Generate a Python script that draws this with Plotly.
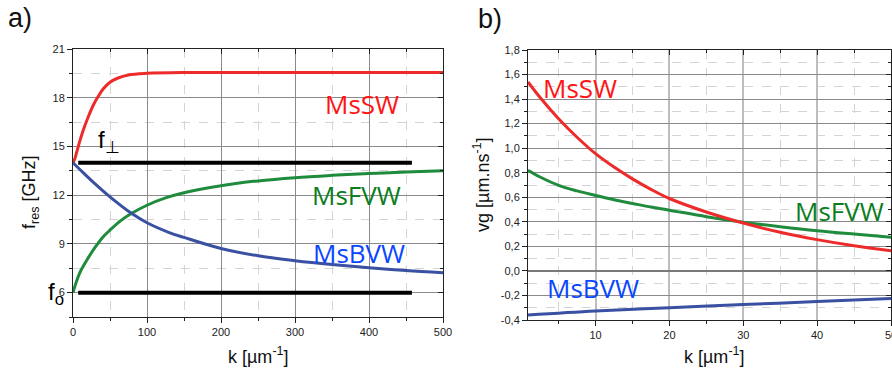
import plotly.graph_objects as go

# ---------------- data: panel a (resonance frequency) ----------------
k_a_sw = [0, 2.5, 5, 10, 15, 20, 27.5, 35, 41, 50, 60, 75, 100, 150, 200, 300, 400, 500]
f_sw = [14.0, 14.25, 14.65, 15.45, 16.15, 16.75, 17.55, 18.15, 18.55, 18.95, 19.2, 19.4, 19.5, 19.55, 19.55, 19.55, 19.55, 19.55]

k_a_bvw = [0, 10, 25, 50, 80, 100, 130, 150, 200, 250, 300, 350, 400, 450, 500]
f_bvw = [14.0, 13.55, 12.9, 11.9, 10.85, 10.3, 9.7, 9.4, 8.72, 8.27, 7.97, 7.73, 7.53, 7.36, 7.22]

k_a_fvw = [0, 3, 6, 10, 20, 30, 40, 50, 65, 80, 100, 125, 150, 200, 250, 300, 350, 400, 450, 500]
f_fvw = [6.0, 6.45, 6.85, 7.3, 8.1, 8.8, 9.4, 9.85, 10.45, 10.9, 11.38, 11.83, 12.15, 12.58, 12.88, 13.08, 13.22, 13.33, 13.42, 13.5]

k_lim = [7, 458]
f_perp = [14.0, 14.0]
f_zero = [6.0, 6.0]

a_xticks = [0, 100, 200, 300, 400, 500]
a_yticks = [6, 9, 12, 15, 18, 21]

# ---------------- data: panel b (group velocity) ----------------
k_b_sw = [0.86, 2.5, 5, 7.5, 10, 12.5, 15, 17.5, 20, 25, 30, 35, 40, 45, 50]
vg_sw = [1.54, 1.413, 1.24, 1.089, 0.955, 0.846, 0.75, 0.665, 0.59, 0.48, 0.39, 0.315, 0.255, 0.205, 0.165]

k_b_fvw = [0.86, 2.5, 5, 7.5, 10, 12.5, 15, 17.5, 20, 25, 30, 35, 40, 45, 50]
vg_fvw = [0.82, 0.765, 0.697, 0.652, 0.615, 0.58, 0.55, 0.52, 0.495, 0.442, 0.397, 0.36, 0.327, 0.30, 0.275]

k_b_bvw = [0.86, 10, 20, 30, 40, 50]
vg_bvw = [-0.36, -0.327, -0.30, -0.274, -0.25, -0.225]

b_xticks = [10, 20, 30, 40, 50]
b_yticks = [1.8, 1.6, 1.4, 1.2, 1.0, 0.8, 0.6, 0.4, 0.2, 0.0, -0.2, -0.4]
b_yticktext = ["1,8", "1,6", "1,4", "1,2", "1,0", "0,8", "0,6", "0,4", "0,2", "0,0", "-0,2", "-0,4"]

# ---------------- styling ----------------
W, H = 892, 369
RED, BLUE, GREEN = "#ee2b2b", "#3a50a2", "#1e8c3c"
TRED, TBLUE, TGREEN = "#ff1414", "#0a46ff", "#0b7d1e"
TF = "Liberation Sans, Arial, sans-serif"
TICKFONT = dict(family=TF, size=11, color="#222")
LABFONT = "Open Sans, sans-serif"


def px_x(p):
    return p / W


def px_y(p):
    return 1 - p / H


def main_axis(domain, rng, tickvals, ticktext, minor_dtick, minor_tick0, anchor,
              gridcolor="#8a8a8a", gridwidth=1):
    return dict(
        domain=domain, range=rng, anchor=anchor, automargin=False,
        tickmode="array", tickvals=tickvals, ticktext=ticktext,
        ticks="outside", ticklen=5, tickwidth=1, tickcolor="#222",
        ticklabeloverflow="allow",
        showline=True, linecolor="#222", linewidth=1, mirror=True,
        showgrid=True, gridcolor=gridcolor, gridwidth=gridwidth,
        zeroline=False, tickfont=TICKFONT,
        minor=dict(dtick=minor_dtick, tick0=minor_tick0, ticks="outside", ticklen=3,
                   tickcolor="#222", showgrid=True, gridcolor="#d4d4d4",
                   griddash="dash", gridwidth=1),
    )


def mirror_axis(overlay, side, anchor, rng, tickvals, minor_dtick, minor_tick0):
    return dict(
        overlaying=overlay, side=side, anchor=anchor, range=rng, automargin=False,
        tickmode="array", tickvals=tickvals, showticklabels=False,
        ticks="inside", ticklen=5, tickcolor="#222",
        showline=False, showgrid=False, zeroline=False,
        minor=dict(dtick=minor_dtick, tick0=minor_tick0, ticks="inside",
                   ticklen=3, tickcolor="#222", showgrid=False),
    )


a_xdom = [px_x(73), px_x(443)]
a_ydom = [px_y(317), px_y(49)]
b_xdom = [px_x(528), px_x(891)]
b_ydom = [px_y(320), px_y(50)]

a_xr = [0, 500]
a_yr = [4.5, 21]
b_xr = [0.86, 50]
b_yr = [-0.4, 1.8]

fig = go.Figure()

SPL = dict(shape="spline", smoothing=1.0)

# panel a
fig.add_trace(go.Scatter(x=k_lim, y=f_perp, mode="lines", line=dict(color="black", width=4),
                         xaxis="x", yaxis="y", showlegend=False))
fig.add_trace(go.Scatter(x=k_lim, y=f_zero, mode="lines", line=dict(color="black", width=4),
                         xaxis="x", yaxis="y", showlegend=False))
fig.add_trace(go.Scatter(x=k_a_sw, y=f_sw, mode="lines", line=dict(color=RED, width=3, **SPL),
                         xaxis="x", yaxis="y", showlegend=False))
fig.add_trace(go.Scatter(x=k_a_fvw, y=f_fvw, mode="lines", line=dict(color=GREEN, width=3, **SPL),
                         xaxis="x", yaxis="y", showlegend=False))
fig.add_trace(go.Scatter(x=k_a_bvw, y=f_bvw, mode="lines", line=dict(color=BLUE, width=3, **SPL),
                         xaxis="x", yaxis="y", showlegend=False))

# panel b
fig.add_trace(go.Scatter(x=k_b_bvw, y=vg_bvw, mode="lines", line=dict(color=BLUE, width=3, **SPL),
                         xaxis="x2", yaxis="y2", showlegend=False))
fig.add_trace(go.Scatter(x=k_b_fvw, y=vg_fvw, mode="lines", line=dict(color=GREEN, width=3, **SPL),
                         xaxis="x2", yaxis="y2", showlegend=False))
fig.add_trace(go.Scatter(x=k_b_sw, y=vg_sw, mode="lines", line=dict(color=RED, width=3, **SPL),
                         xaxis="x2", yaxis="y2", showlegend=False))

# dummy traces so the mirrored tick axes get drawn
for xa, ya in [("x3", "y"), ("x", "y3"), ("x4", "y2"), ("x2", "y4")]:
    fig.add_trace(go.Scatter(x=[None], y=[None], xaxis=xa, yaxis=ya, showlegend=False, hoverinfo="skip"))

C = dict(xanchor="center", yanchor="middle", showarrow=False)
ann = []
# text labels in panel a
ann += [
    dict(x=390, y=17.6, xref="x", yref="y", text="MsSW", **C,
         font=dict(family=LABFONT, size=26, color=TRED)),
    dict(x=383, y=12.0, xref="x", yref="y", text="MsFVW", **C,
         font=dict(family=LABFONT, size=26, color=TGREEN)),
    dict(x=386.5, y=8.43, xref="x", yref="y", text="MsBVW", **C,
         font=dict(family=LABFONT, size=26, color=TBLUE)),
    dict(x=31, y=15.33, xref="x", yref="y", text="f<sub>⊥</sub>", showarrow=False,
         xanchor="left", yanchor="middle", font=dict(family=TF, size=24, color="black")),
    dict(x=px_x(46), y=px_y(293), xref="paper", yref="paper", text="f<sub>o</sub>", showarrow=False,
         xanchor="left", yanchor="middle", font=dict(family=TF, size=24, color="black")),
]
# text labels in panel b
ann += [
    dict(x=7.93, y=1.489, xref="x2", yref="y2", text="MsSW", **C,
         font=dict(family=LABFONT, size=26, color=TRED)),
    dict(x=43, y=0.487, xref="x2", yref="y2", text="MsFVW", **C,
         font=dict(family=LABFONT, size=26, color=TGREEN)),
    dict(x=9.7, y=-0.141, xref="x2", yref="y2", text="MsBVW", **C,
         font=dict(family=LABFONT, size=26, color=TBLUE)),
]
# axis titles and panel letters
ann += [
    dict(x=px_x(258), y=px_y(355), xref="paper", yref="paper", text="k [µm<sup>-1</sup>]", **C,
         font=dict(family=TF, size=18, color="#111")),
    dict(x=px_x(714), y=px_y(355), xref="paper", yref="paper", text="k [µm<sup>-1</sup>]", **C,
         font=dict(family=TF, size=18, color="#111")),
    dict(x=px_x(30), y=px_y(192), xref="paper", yref="paper", text="f<sub>res</sub> [GHz]",
         textangle=-90, **C, font=dict(family=TF, size=18, color="#111")),
    dict(x=px_x(482), y=px_y(185), xref="paper", yref="paper", text="vg [µm.ns<sup>-1</sup>]",
         textangle=-90, **C, font=dict(family=TF, size=18, color="#111")),
    dict(x=px_x(20), y=px_y(18), xref="paper", yref="paper", text="a)", **C,
         font=dict(family=TF, size=27, color="#111")),
    dict(x=px_x(490), y=px_y(19), xref="paper", yref="paper", text="b)", **C,
         font=dict(family=TF, size=27, color="#111")),
]

bx = main_axis(b_xdom, b_xr, b_xticks, [str(v) for v in b_xticks], 5, 0, "y2",
               gridcolor="#bdbdbd", gridwidth=2)
by = main_axis(b_ydom, b_yr, b_yticks, b_yticktext, 0.1, 0, "x2")
by.update(zeroline=True, zerolinecolor="#7a7a7a", zerolinewidth=2)

fig.update_layout(
    template="none",
    width=W, height=H, autosize=False,
    margin=dict(l=0, r=0, t=0, b=0, pad=0),
    paper_bgcolor="white", plot_bgcolor="white",
    showlegend=False,
    xaxis=main_axis(a_xdom, a_xr, a_xticks, [str(v) for v in a_xticks], 50, 0, "y"),
    yaxis=main_axis(a_ydom, a_yr, a_yticks, [str(v) for v in a_yticks], 1.5, 4.5, "x"),
    xaxis2=bx,
    yaxis2=by,
    xaxis3=mirror_axis("x", "top", "y", a_xr, a_xticks, 50, 0),
    yaxis3=mirror_axis("y", "right", "x", a_yr, a_yticks, 1.5, 4.5),
    xaxis4=mirror_axis("x2", "top", "y2", b_xr, b_xticks, 5, 0),
    yaxis4=mirror_axis("y2", "right", "x2", b_yr, b_yticks, 0.1, 0),
    annotations=ann,
)

fig.write_html("out.html")
